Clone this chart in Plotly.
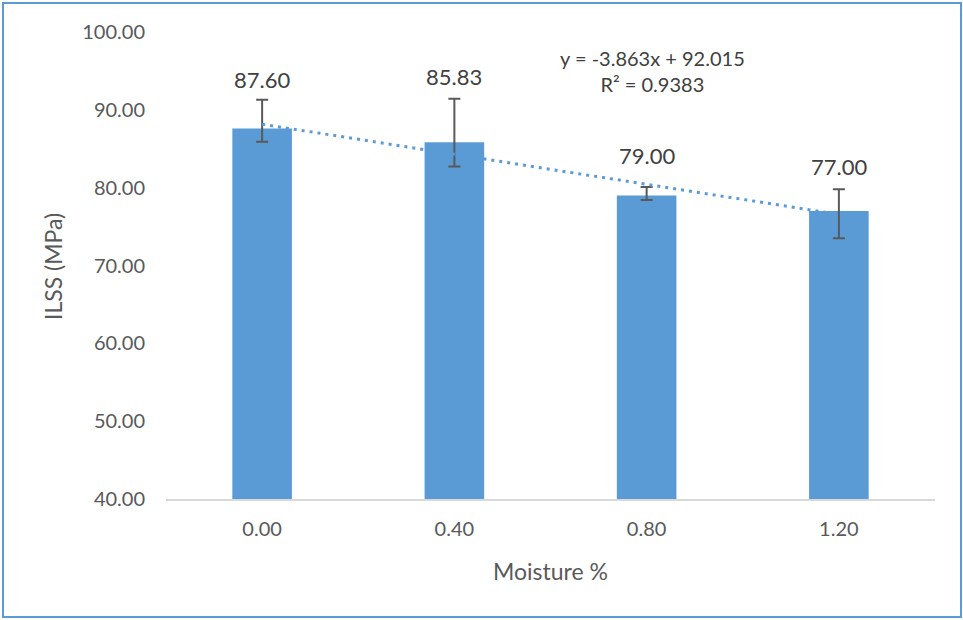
import plotly.graph_objects as go

categories = ["0.00", "0.40", "0.80", "1.20"]
ilss = [87.60, 85.83, 79.00, 77.00]
err_plus = [3.7, 5.6, 1.1, 2.8]
err_minus = [1.7, 3.1, 0.6, 3.5]
labels = ["87.60", "85.83", "79.00", "77.00"]
label_shift = [20, 22, 31, 23]
slope = -3.863
intercept = 92.015
r2 = 0.9383
y_ticks = [40, 50, 60, 70, 80, 90, 100]
y_ticklabels = ["40.00", "50.00", "60.00", "70.00", "80.00", "90.00", "100.00"]

FONT = "Lato, Carlito, 'Liberation Sans', sans-serif"
BLUE = "#5B9BD5"
TXT = "#595959"

L, R, T, B = 166, 28, 32, 121
PW, PH = 963 - L - R, 620 - T - B


def px(x):
    return (x - L) / PW


def py(y):
    return (620 - B - y) / PH


idx = list(range(len(categories)))
trend_y = [slope * (i + 1) + intercept for i in idx]

fig = go.Figure()
fig.add_trace(go.Bar(
    x=idx, y=ilss, width=0.31,
    marker=dict(color=BLUE, line=dict(width=0)),
    error_y=dict(type="data", symmetric=False, array=err_plus, arrayminus=err_minus,
                 color="#595959", thickness=2, width=6),
    showlegend=False, hoverinfo="skip",
))
fig.add_trace(go.Scatter(
    x=idx, y=trend_y, mode="lines",
    line=dict(color=BLUE, width=3, dash="3px,5px"),
    showlegend=False, hoverinfo="skip",
))

for i, v, ep, t, s in zip(idx, ilss, err_plus, labels, label_shift):
    fig.add_annotation(x=i, y=v + ep, text=t, showarrow=False, yanchor="middle",
                       xanchor="center", yshift=s,
                       font=dict(family=FONT, size=22, color="#404040"))

fig.add_annotation(xref="paper", yref="paper", x=px(652), y=py(71),
                   xanchor="center", yanchor="middle",
                   text=f"y = {slope}x + {intercept}<br>R² = {r2}", showarrow=False,
                   align="center", font=dict(family=FONT, size=20, color="#404040"))

fig.add_annotation(xref="paper", yref="paper", x=px(53), y=py(267),
                   xanchor="center", yanchor="middle",
                   text="ILSS (MPa)", textangle=-90, showarrow=False,
                   font=dict(family=FONT, size=23, color=TXT))
fig.add_annotation(xref="paper", yref="paper", x=px(550), y=py(571),
                   xanchor="center", yanchor="middle",
                   text="Moisture %", showarrow=False,
                   font=dict(family=FONT, size=23, color=TXT))

fig.add_shape(type="rect", xref="paper", yref="paper",
              x0=px(3), x1=px(961), y0=py(617), y1=py(3),
              line=dict(color=BLUE, width=2), layer="below")

fig.update_layout(
    width=963, height=620,
    margin=dict(l=L, r=R, t=T, b=B),
    paper_bgcolor="white", plot_bgcolor="white",
    font=dict(family=FONT, color=TXT),
)
fig.update_xaxes(
    range=[-0.5, 3.5], tickvals=idx, ticktext=categories, automargin=False,
    showline=True, linecolor="#D9D9D9", linewidth=1.5, zeroline=False,
    showgrid=False, ticks="", ticklabelstandoff=11,
    tickfont=dict(family=FONT, size=20, color=TXT),
)
fig.update_yaxes(
    range=[40, 100], tickvals=y_ticks, ticktext=y_ticklabels, automargin=False,
    showgrid=False, showline=False, zeroline=False, ticks="", ticklabelstandoff=20,
    tickfont=dict(family=FONT, size=20, color=TXT),
)

fig.write_html("out.html", config={"displayModeBar": False},
               post_script="document.body.style.margin='0';document.body.style.overflow='hidden';")
